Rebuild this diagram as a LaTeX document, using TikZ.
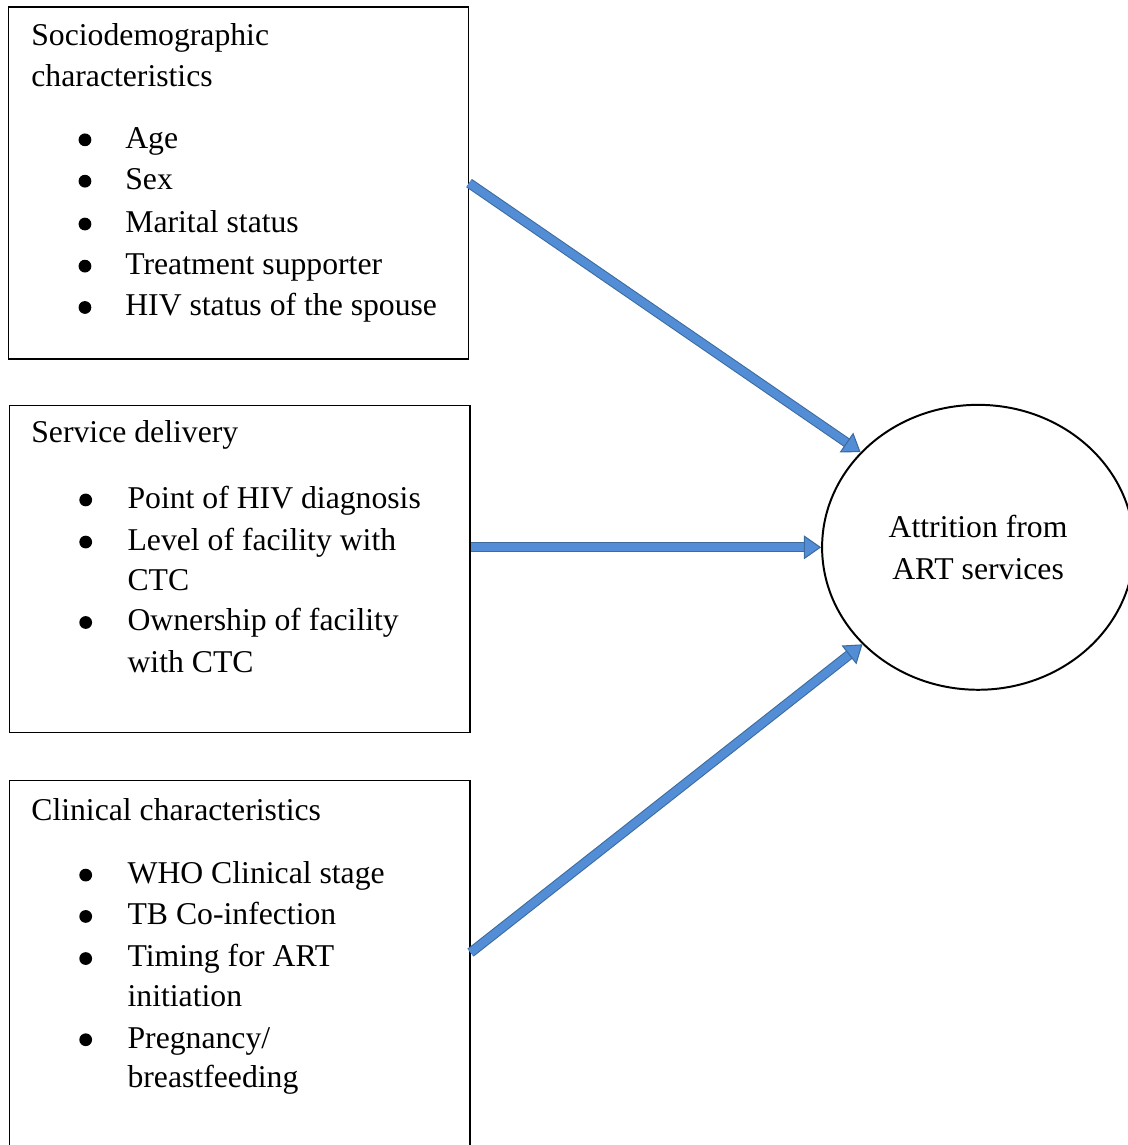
\documentclass[tikz,border=0pt]{standalone}
\usepackage{fontspec}
\setmainfont{Liberation Serif}
\usepackage{xcolor}
\usepackage{tikz}
\usetikzlibrary{positioning,arrows.meta,shapes.geometric,calc}
\definecolor{ArrowFill}{HTML}{538DD5}
\definecolor{ArrowEdge}{HTML}{3C6C9F}
\definecolor{TextDark}{HTML}{000000}

\tikzset{
  factorbox/.style={draw=black, line width=0.5pt, minimum width=6.12cm, inner sep=0pt},
  boxtext/.style={anchor=base west, inner sep=0pt, text=TextDark,
    font=\fontsize{12}{15.8}\selectfont},
  flowarrow/.style={draw=ArrowFill, line width=3pt,
    -{Triangle[length=6.5pt,width=9pt,fill=ArrowFill,color=ArrowEdge,line width=0.4pt]},
    preaction={draw=ArrowEdge, line width=3.8pt, -, shorten >=5pt}}
}

\begin{document}
\begin{tikzpicture}[x=1cm,y=1cm]
            \useasboundingbox (0,0) rectangle (15.00,15.23);

            % factor boxes
            \node[factorbox, minimum height=4.68cm] (socio) at (3.17,12.795) {};
            \node[factorbox, minimum height=4.35cm] (service) at (3.19,7.665) {};
            \node[factorbox, minimum height=5.15cm] (clinical) at (3.19,2.275) {};

            % outcome
            \node[ellipse, draw=black, line width=0.75pt, minimum width=4.15cm,
              minimum height=3.79cm, align=center, text=TextDark,
              font=\fontsize{12}{15.8}\selectfont] (attrition) at (13.01,7.95)
            {Attrition from\\ART services};

            % sociodemographic
            \node[boxtext] (sochead1) at (0.41,14.62) {Sociodemographic};
            \node[boxtext] (sochead2) at (0.41,14.08) {characteristics};
            \foreach \y/\lab [count=\i] in {13.26/Age,12.71/Sex,12.14/Marital status,
                11.58/Treatment supporter,11.03/HIV status of the spouse} {
                \fill[TextDark] (1.13,\y+0.11) circle (0.085);
                \node[boxtext] (socitem\i) at (1.66,\y) {\lab};
              }

            % service delivery
            \node[boxtext] (servhead) at (0.41,9.34) {Service delivery};
            \foreach \y/\lab [count=\i] in {8.47/Point of HIV diagnosis,
                7.91/Level of facility with,7.37/CTC,6.84/Ownership of facility,
                6.29/with CTC} {
                \node[boxtext] (servitem\i) at (1.69,\y) {\lab};
              }
            \foreach \y in {8.47,7.91,6.84}
              \fill[TextDark] (1.14,\y+0.11) circle (0.085);

            % clinical
            \node[boxtext] (clinhead) at (0.41,4.32) {Clinical characteristics};
            \foreach \y/\lab [count=\i] in {3.48/WHO Clinical stage,2.93/TB Co-infection,
                2.37/Timing for ART,1.84/initiation,1.29/{Pregnancy/},0.76/breastfeeding} {
                \node[boxtext] (clinitem\i) at (1.69,\y) {\lab};
              }
            \foreach \y in {3.48,2.93,2.37,1.29}
              \fill[TextDark] (1.14,\y+0.11) circle (0.085);

            % arrows
            \draw[flowarrow] (socio.east) -- (attrition.141);
            \draw[flowarrow] (service.east |- attrition.west) -- (attrition.west);
            \draw[flowarrow] ($(clinical.north east)+(0,-2.3)$) -- (attrition.220);
          \end{tikzpicture}
\end{document}
